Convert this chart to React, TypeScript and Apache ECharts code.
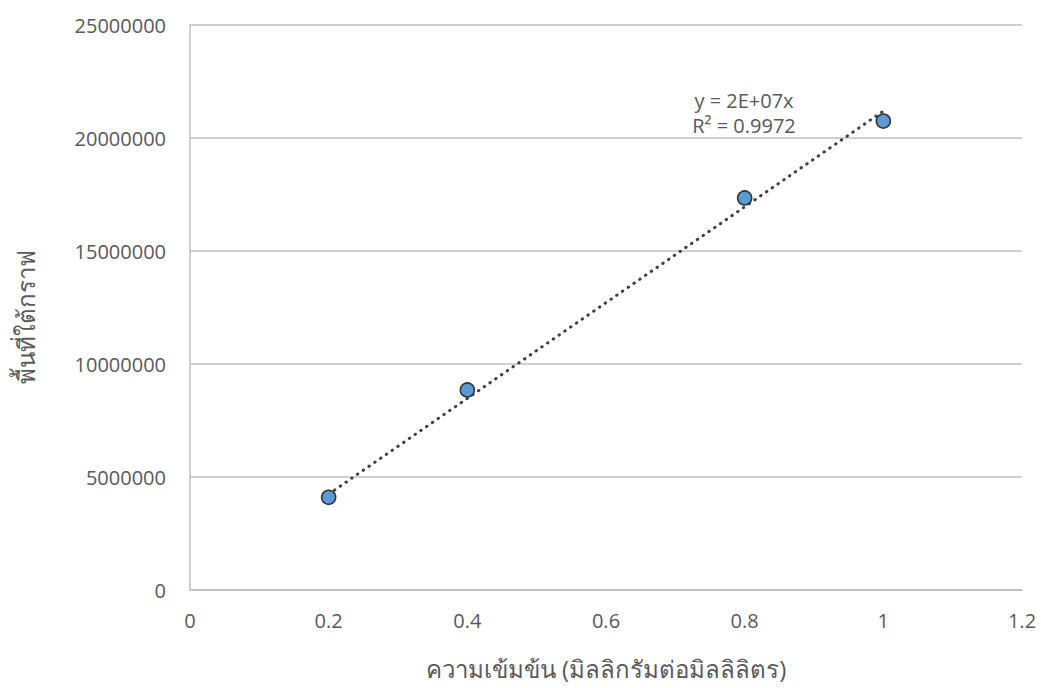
import React, { useEffect, useRef } from "react";
import * as echarts from "echarts";

const concentrations = [0.2, 0.4, 0.8, 1.0];
const areas = [4100000, 8850000, 17350000, 20750000];
const trendX = [0.2, 1.0];
const trendY = [4240000, 21190000];
const xTicks = { min: 0, max: 1.2, interval: 0.2 };
const yTicks = { min: 0, max: 25000000, interval: 5000000 };
const xTitle = "ความเข้มข้น (มิลลิกรัมต่อมิลลิลิตร)";
const yTitle = "พื้นที่ใต้กราฟ";
const eqLines = ["y = 2E+07x", "R² = 0.9972"];

const FONT = "'Open Sans', 'Noto Sans', 'DejaVu Sans', sans-serif";

export default function App() {
  const ref = useRef<HTMLDivElement>(null);
  useEffect(() => {
    if (!ref.current) return;
    const chart = echarts.init(ref.current, undefined, { renderer: "svg" });
    chart.setOption({
      animation: false,
      backgroundColor: "#ffffff",
      textStyle: { fontFamily: FONT },
      grid: { left: 190, right: 19, top: 25, bottom: 98, containLabel: false },
      xAxis: {
        type: "value",
        min: xTicks.min,
        max: xTicks.max,
        interval: xTicks.interval,
        splitLine: { show: false },
        axisTick: { show: false },
        axisLine: { show: true, lineStyle: { color: "#bfbfbf", width: 1.5 } },
        axisLabel: { color: "#595959", fontSize: 20, margin: 20, fontFamily: FONT },
        name: xTitle,
        nameLocation: "middle",
        nameGap: 66,
        nameTextStyle: { color: "#595959", fontSize: 24, fontFamily: FONT },
      },
      yAxis: {
        type: "value",
        min: yTicks.min,
        max: yTicks.max,
        interval: yTicks.interval,
        splitLine: { show: true, lineStyle: { color: "#bfbfbf", width: 1.5 } },
        axisTick: { show: false },
        axisLine: { show: true, lineStyle: { color: "#bfbfbf", width: 1.5 } },
        axisLabel: {
          color: "#595959",
          fontSize: 20,
          margin: 24,
          fontFamily: FONT,
          formatter: (v: number) => String(v),
        },
        name: yTitle,
        nameLocation: "middle",
        nameGap: 153,
        nameRotate: 90,
        nameTextStyle: { color: "#595959", fontSize: 24, fontFamily: FONT, padding: [0, 18, 0, 0] },
      },
      series: [
        {
          type: "line",
          data: trendX.map((x, i) => [x, trendY[i]]),
          symbol: "none",
          z: 2,
          lineStyle: { color: "#404040", width: 3, type: [0.5, 6.5], cap: "round" },
        },
        {
          type: "scatter",
          data: concentrations.map((x, i) => [x, areas[i]]),
          symbol: "circle",
          symbolSize: 14,
          z: 3,
          itemStyle: { color: "#5B9BD5", borderColor: "#333333", borderWidth: 1.6, opacity: 1 },
        },
      ],
      graphic: [
        {
          type: "text",
          x: 744,
          y: 88,
          style: {
            text: eqLines.join("\n"),
            fill: "#595959",
            font: `20px ${FONT}`,
            lineHeight: 25,
            align: "center",
            verticalAlign: "top",
          },
        },
      ],
    });
    return () => chart.dispose();
  }, []);
  return <div ref={ref} style={{ width: 1041, height: 688, position: "absolute", left: 0, top: 0 }} />;
}
